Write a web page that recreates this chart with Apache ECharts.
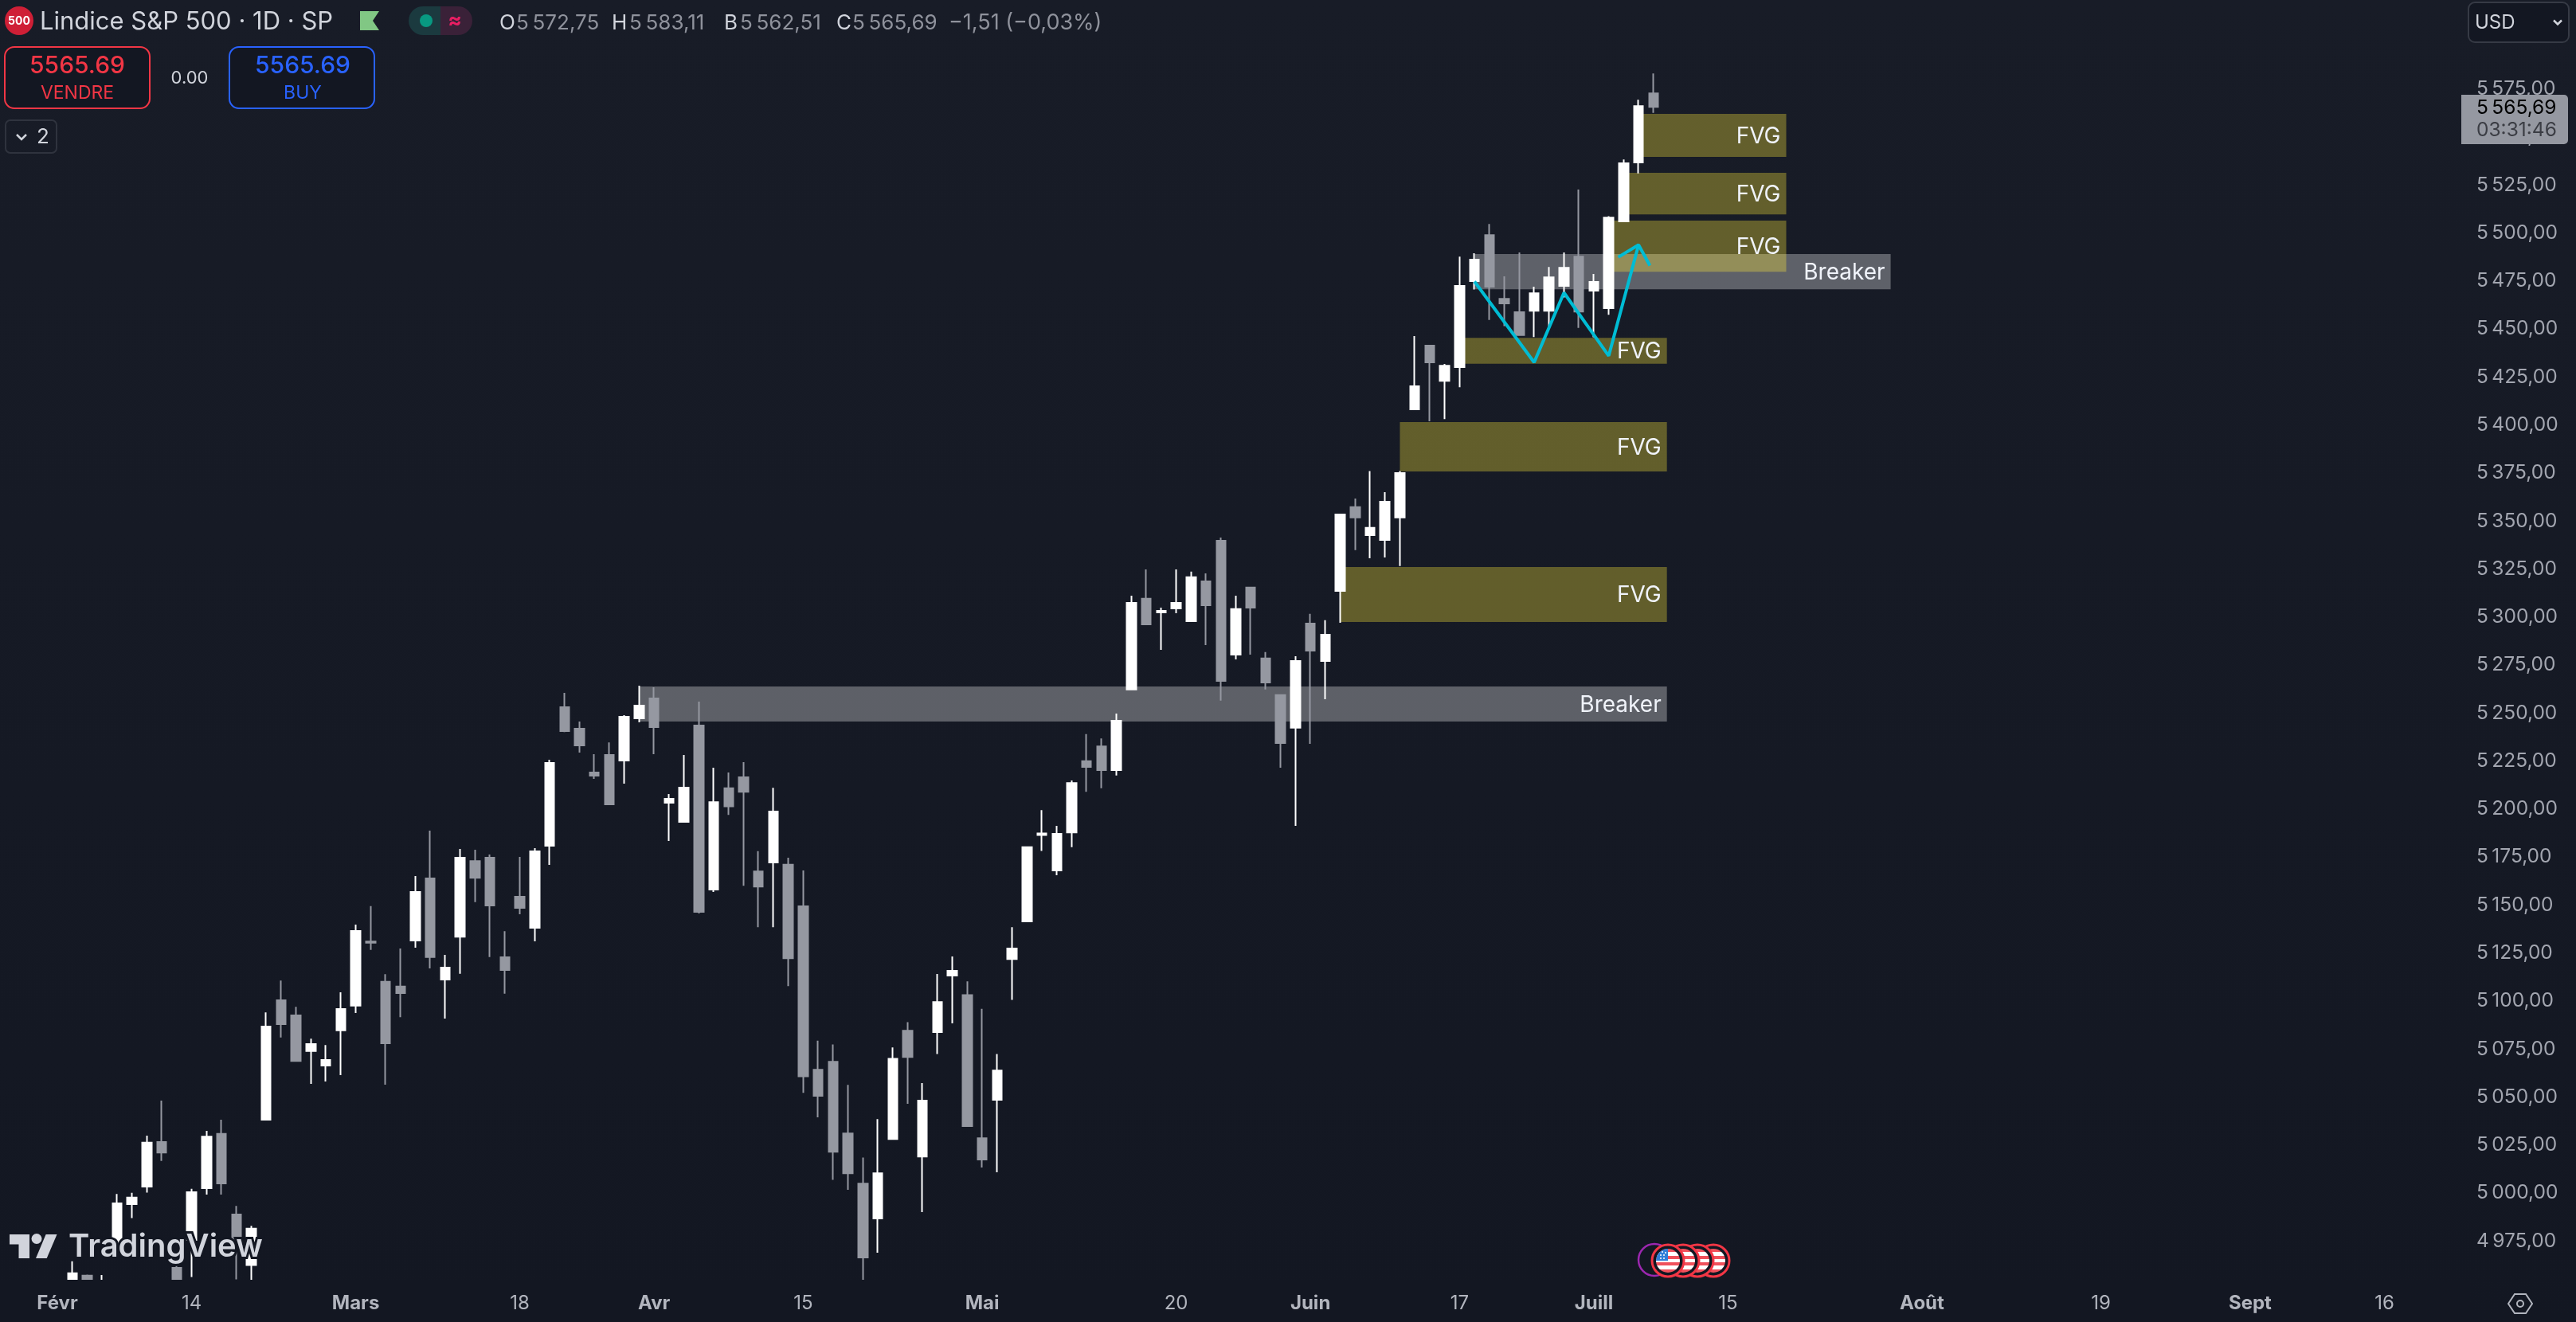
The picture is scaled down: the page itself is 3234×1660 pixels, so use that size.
<!DOCTYPE html>
<html>
<head>
<meta charset="utf-8">
<title>Lindice S&amp;P 500</title>
<style>
html, body { margin: 0; padding: 0; background: #131722; }
#chart { width: 3234px; height: 1660px; }
</style>
<script src="https://cdn.jsdelivr.net/npm/echarts@6/dist/echarts.min.js"></script>
</head>
<body>
<div id="chart"></div>
<script>
// bougies journalieres
var opens = [4950, 4957, 4940, 4972, 4994.2, 5003.3, 5026.6, 4961, 4975.5, 5002.5, 5030.8, 4988.8, 4962.5, 5038.2, 5100.4, 5092.5, 5073.9, 5066.4, 5084.7, 5097.6, 5131, 5110, 5107.5, 5131.5, 5163.8, 5111.2, 5133.5, 5172.9, 5174.6, 5122.8, 5154.3, 5138.1, 5180.8, 5253, 5241.8, 5219, 5228.1, 5225.2, 5247.2, 5257.6, 5203.2, 5193.3, 5243.5, 5158, 5210.8, 5216.5, 5167.5, 5172.1, 5171, 5149.3, 5064.2, 5068.3, 5031, 5004.9, 4986.7, 5028.1, 5084.5, 5019, 5083.8, 5113.2, 5103.1, 5028.5, 5048.5, 5121.8, 5141.4, 5186.4, 5168, 5187.8, 5224.9, 5232.6, 5220.3, 5262.2, 5309.5, 5302.4, 5304.5, 5297.8, 5318.6, 5339.7, 5280.4, 5315.3, 5278.4, 5259.3, 5242.3, 5296.6, 5277.1, 5313.6, 5357.2, 5342.6, 5340.1, 5351.8, 5408.1, 5441.3, 5423, 5430.1, 5474.9, 5498.9, 5465.7, 5458.7, 5459.5, 5459.5, 5472.4, 5487.7, 5469.9, 5460.8, 5506, 5536.7, 5572.75];
var highs = [4964.4, 4957.5, 4957.3, 4999.5, 5000.1, 5029.9, 5048.1, 4963, 5002.2, 5032.4, 5038.2, 4993.3, 4982.9, 5094.1, 5110.7, 5097, 5080.4, 5077.1, 5104.5, 5139.8, 5149.4, 5114, 5127.3, 5165.1, 5188.7, 5124, 5179.2, 5178.8, 5176.3, 5136.4, 5175, 5179.6, 5225.6, 5260.5, 5245.5, 5228.5, 5234.7, 5248.9, 5264.2, 5263.4, 5207.8, 5228.1, 5255.9, 5221.5, 5219, 5224.4, 5178, 5211, 5174.6, 5168, 5079.3, 5077.4, 5056.3, 5018.5, 5038.5, 5075.8, 5089, 5057.2, 5114.1, 5123.2, 5110.2, 5095.9, 5072.4, 5138.4, 5180.3, 5199.4, 5191.2, 5214.9, 5239, 5236.7, 5249.7, 5311.1, 5324.8, 5304.9, 5324.8, 5323.6, 5322.7, 5341.4, 5311.1, 5315.3, 5281.7, 5259.7, 5279.6, 5301.6, 5298.3, 5353.4, 5361.7, 5376, 5365, 5376, 5446.3, 5441.3, 5431.8, 5487.7, 5489.4, 5504.7, 5477.4, 5489.8, 5472, 5482.3, 5489.8, 5522.6, 5478.6, 5508.7, 5538.3, 5569.4, 5583.11];
var lows = [4945, 4945, 4935, 4970, 4986.9, 5000.2, 5016.7, 4945, 4956.2, 4999.2, 4999.2, 4955, 4950, 5038, 5081, 5068.5, 5056.8, 5058.1, 5061.4, 5093.7, 5126.6, 5056.4, 5091.6, 5127.8, 5117, 5090.8, 5114.2, 5151.5, 5122.9, 5103.8, 5145.2, 5131.1, 5170.9, 5240.1, 5229.4, 5215.7, 5202.4, 5213.2, 5245.1, 5228.5, 5183.3, 5193.3, 5145.6, 5156.8, 5196.9, 5160, 5138.4, 5138.4, 5107.7, 5052.2, 5039.4, 5006.9, 5001.7, 4954.3, 4968.9, 5027.8, 5046.5, 4990.1, 5072.4, 5088.4, 5034.9, 5013.3, 5010.8, 5100.6, 5141.4, 5178.2, 5165.5, 5180.1, 5209, 5210.8, 5217.4, 5262.2, 5295.8, 5282.9, 5302, 5297.4, 5285.4, 5256.4, 5277.9, 5280.4, 5262.2, 5221.5, 5191.2, 5233.9, 5257.2, 5297, 5334.8, 5330.6, 5331, 5326.5, 5408.1, 5401.9, 5403.1, 5419.7, 5470.6, 5454.7, 5451.5, 5446.8, 5445.8, 5451.2, 5466.4, 5450.5, 5445.7, 5457.4, 5506, 5531, 5562.51];
var closes = [4958.2, 4950, 4950, 4994.6, 4997.6, 5026.2, 5021.1, 4948, 5000.4, 5029.4, 5005, 4975.5, 4981.4, 5086.7, 5087.9, 5068.8, 5077.6, 5069.3, 5095.8, 5136.5, 5130.4, 5078, 5104.1, 5156.8, 5122.9, 5117.4, 5174.6, 5164.2, 5149.7, 5116.1, 5148.5, 5177.9, 5224, 5240.6, 5233.1, 5217.3, 5202.4, 5248, 5253.8, 5242.6, 5205.3, 5211.1, 5146.4, 5203.6, 5201.4, 5209, 5159.6, 5198.7, 5122.3, 5060.8, 5050.6, 5021.5, 5010.3, 4966.4, 5010.3, 5069.9, 5070.8, 5048.1, 5099.5, 5115.7, 5034.9, 5017.4, 5063.8, 5127.3, 5180.1, 5187.3, 5187.1, 5213.5, 5221.9, 5220.3, 5246, 5307.4, 5296.2, 5303.2, 5307.4, 5320.7, 5306.1, 5266.7, 5304.1, 5304.9, 5265.9, 5234.4, 5277.1, 5282.5, 5290.8, 5353.4, 5351.8, 5346.4, 5360, 5375, 5420.2, 5432.6, 5430.9, 5472.4, 5486.1, 5472, 5463.3, 5446.8, 5468.6, 5476.9, 5481.9, 5459.1, 5474.5, 5508, 5536.3, 5566.1, 5565.69];

// graduations
var priceTicks = [4975, 5000, 5025, 5050, 5075, 5100, 5125, 5150, 5175, 5200, 5225, 5250, 5275, 5300, 5325, 5350, 5375, 5400, 5425, 5450, 5475, 5500, 5525, 5550, 5575];
var dateTickSlots = [-1, 8, 19, 30, 39, 49, 61, 74, 83, 93, 102, 111, 124, 136, 146, 155];
var dateTickNames = ['Févr', '14', 'Mars', '18', 'Avr', '15', 'Mai', '20', 'Juin', '17', 'Juill', '15', 'Août', '19', 'Sept', '16'];
var monthNames = ['Févr', 'Mars', 'Avr', 'Mai', 'Juin', 'Juill', 'Août', 'Sept'];

// zones dessinees (breaker d'abord, les FVG passent dessus)
var zoneLabels = ['Breaker', 'Breaker', 'FVG', 'FVG', 'FVG', 'FVG', 'FVG', 'FVG'];
var zoneFrom = [38, 94, 85, 89, 93, 103, 104, 105];
var zoneTo = [106.9, 121.9, 106.9, 106.9, 106.9, 114.9, 114.9, 114.9];
var zoneTop = [5263.8, 5489, 5326, 5401.5, 5445.4, 5506.4, 5531.3, 5562];
var zoneBottom = [5245.6, 5470.7, 5297.4, 5375.8, 5431.9, 5479.8, 5509.7, 5539.6];

// trace cyan et sa fleche
var pathSlots = [94, 98, 100, 103, 105];
var pathPrices = [5474.7, 5432.6, 5468.9, 5436, 5493.8];
var arrowSlots = [103.64, 105, 105.76];
var arrowPrices = [5487.4, 5493.8, 5483];

var barStep = 18.727;
var leadSlots = 4;
var slotCount = 165;
var uiFont = 'Inter, "Noto Sans", sans-serif';

function pad(i) {
    return i + leadSlots;
}

function priceText(v) {
    var s = v.toFixed(2).replace('.', ',');
    return s.charAt(0) + '\u202f' + s.slice(1);
}

function buildCategories() {
    var list = [];
    for (var i = 0; i < slotCount; i++) list.push('');
    dateTickSlots.forEach(function(slot, k) {
        list[pad(slot)] = dateTickNames[k];
    });
    return list;
}

function buildCandles() {
    var list = [];
    for (var i = 0; i < leadSlots; i++) list.push(['-', '-', '-', '-']);
    opens.forEach(function(o, i) {
        list.push([o, closes[i], lows[i], highs[i]]);
    });
    return list;
}

function buildZones() {
    return zoneLabels.map(function(name, i) {
        return [zoneFrom[i], zoneTo[i], zoneTop[i], zoneBottom[i], name];
    });
}

function pairs(xs, ys) {
    return xs.map(function(x, i) {
        return [x, ys[i]];
    });
}

function renderZone(params, api) {
    var a = api.coord([api.value(0), api.value(2)]);
    var b = api.coord([api.value(1), api.value(3)]);
    var name = zoneLabels[params.dataIndex];
    return {
        type: 'group',
        children: [{
            type: 'rect',
            shape: { x: a[0], y: a[1], width: b[0] - a[0], height: b[1] - a[1] },
            style: { fill: name == 'FVG' ? 'rgba(255,235,59,0.33)' : 'rgba(255,255,255,0.31)' }
        }, {
            type: 'text',
            style: {
                x: b[0] - 7,
                y: (a[1] + b[1]) / 2 + 1.5,
                text: name,
                fill: '#f0f3fa',
                fontFamily: uiFont,
                fontSize: 28,
                align: 'right',
                verticalAlign: 'middle'
            }
        }]
    };
}

// petits helpers pour l'entete et les decors
function txt(x, y, text, size, color, align, weight) {
    return {
        type: 'text', z: 100,
        style: {
            x: x, y: y, text: text, fill: color, fontFamily: uiFont, fontSize: size,
            fontWeight: weight || 'normal', align: align || 'left', verticalAlign: 'middle'
        }
    };
}

function box(x, y, w, h, r, fill, stroke, lw) {
    return {
        type: 'rect', z: 100,
        shape: { x: x, y: y, width: w, height: h, r: r },
        style: { fill: fill, stroke: stroke || null, lineWidth: lw || 0 }
    };
}

function poly(points, fill) {
    return { type: 'polygon', z: 100, shape: { points: points }, style: { fill: fill } };
}

function chevron(x, y, s, color) {
    return {
        type: 'polyline', z: 100,
        shape: { points: [[x - s, y - s / 2], [x, y + s / 2], [x + s, y - s / 2]] },
        style: { stroke: color, lineWidth: 2.5, fill: null }
    };
}

function flag(cx, cy, withStars) {
    var stops = [];
    var colors = ['#f0515c', '#ffffff', '#f0515c', '#ffffff', '#f0515c', '#ffffff', '#f0515c'];
    colors.forEach(function(c, i) {
        stops.push({ offset: i / 7, color: c });
        stops.push({ offset: (i + 1) / 7, color: c });
    });
    var parts = [{
        type: 'circle', z: 101, shape: { cx: cx, cy: cy, r: 20 },
        style: { fill: '#131722', stroke: '#f23645', lineWidth: 3 }
    }, {
        type: 'circle', z: 101, shape: { cx: cx, cy: cy, r: 15 },
        style: { fill: { type: 'linear', x: 0, y: 0, x2: 0, y2: 1, colorStops: stops } }
    }];
    if (withStars) {
        parts.push({
            type: 'sector', z: 101,
            shape: { cx: cx, cy: cy, r: 15, r0: 0, startAngle: Math.PI, endAngle: Math.PI * 1.5 },
            style: { fill: '#2f7fd8' }
        });
        [[-9, -7], [-5, -7], [-9, -3], [-5, -3], [-3, -10], [-7, -11]].forEach(function(d) {
            parts.push({ type: 'circle', z: 101, shape: { cx: cx + d[0], cy: cy + d[1], r: 1 }, style: { fill: '#fff' } });
        });
    }
    return parts;
}

function buildGraphics() {
    var g = [];

    // bande de l'axe du temps: coupe les bougies qui descendent sous le graphique
    g.push({
        type: 'rect', z: 3,
        shape: { x: 0, y: 1607, width: 3100, height: 53 },
        style: { fill: '#131722' }
    });

    // titre
    g.push({ type: 'circle', z: 100, shape: { cx: 24, cy: 26, r: 18 }, style: { fill: '#cf1f36' } });
    g.push(txt(24, 27, '500', 14, '#ffffff', 'center', 'bold'));
    g.push(txt(50, 28, 'Lindice S&P 500 · 1D · SP', 31, '#d1d4dc'));
    g.push(poly([[452, 14], [476, 14], [468, 26], [476, 38], [452, 38]], '#81c784'));
    g.push(box(513, 8, 40, 36, [18, 0, 0, 18], '#1b3a3f'));
    g.push(box(553, 8, 40, 36, [0, 18, 18, 0], '#3a2138'));
    g.push({ type: 'circle', z: 100, shape: { cx: 535, cy: 26, r: 8 }, style: { fill: '#089981' } });
    g.push(txt(571, 26, '≈', 26, '#e91e63', 'center', 'bold'));

    // OHLC
    var head = '#d1d4dc', val = '#8f929c';
    g.push(txt(627, 29, 'O', 26, head));
    g.push(txt(648, 29, '5\u202f572,75', 26, val));
    g.push(txt(768, 29, 'H', 26, head));
    g.push(txt(790, 29, '5\u202f583,11', 26, val));
    g.push(txt(909, 29, 'B', 26, head));
    g.push(txt(929, 29, '5\u202f562,51', 26, val));
    g.push(txt(1050, 29, 'C', 26, head));
    g.push(txt(1070, 29, '5\u202f565,69', 26, val));
    g.push(txt(1191, 29, '−1,51 (−0,03%)', 27, val));

    // boutons
    g.push(box(6, 59, 182, 77, 12, '#131722', '#f23645', 2));
    g.push(txt(97, 83, '5565.69', 30, '#f23645', 'center', 500));
    g.push(txt(97, 117, 'VENDRE', 23, '#f23645', 'center'));
    g.push(txt(238, 98, '0.00', 22, '#d1d4dc', 'center'));
    g.push(box(288, 59, 182, 77, 12, '#131722', '#2962ff', 2));
    g.push(txt(380, 83, '5565.69', 30, '#2962ff', 'center', 500));
    g.push(txt(380, 117, 'BUY', 23, '#2962ff', 'center'));
    g.push(box(7, 151, 64, 41, 6, 'rgba(0,0,0,0)', '#2f333e', 2));
    g.push(chevron(27, 172, 6, '#d1d4dc'));
    g.push(txt(54, 172, '2', 26, '#d1d4dc', 'center'));

    // USD et prix courant
    g.push(box(3099, 3, 126, 50, 8, '#131722', '#363a45', 2));
    g.push(txt(3107, 29, 'USD', 24, '#d1d4dc'));
    g.push(chevron(3211, 28, 5, '#d1d4dc'));
    g.push(box(3090, 119, 134, 62, [0, 5, 5, 0], '#9598a1'));
    g.push(txt(3109, 136, priceText(closes[closes.length - 1]), 24.5, '#000000'));
    g.push(txt(3109, 164, '03:31:46', 24.5, '#3b3d44'));

    // logo
    g.push(poly([[12, 1550], [37, 1550], [37, 1580], [23.5, 1580], [23.5, 1562.5], [12, 1562.5]], '#d1d4dc'));
    g.push({ type: 'circle', z: 100, shape: { cx: 46, cy: 1555.5, r: 6.5 }, style: { fill: '#d1d4dc' } });
    g.push(poly([[57.6, 1550], [71.5, 1550], [58.7, 1580], [45, 1580]], '#d1d4dc'));
    var logo = txt(86, 1566, 'TradingView', 40, '#d1d4dc', 'left', 600);
    logo.style.stroke = '#131722';
    logo.style.lineWidth = 6;
    g.push(logo);

    // evenements
    g.push({
        type: 'circle', z: 101, shape: { cx: 2077, cy: 1582, r: 20 },
        style: { fill: '#131722', stroke: '#9c27b0', lineWidth: 2.5 }
    });
    [2151, 2131, 2113].forEach(function(x) {
        g = g.concat(flag(x, 1583, false));
    });
    g = g.concat(flag(2094, 1583, true));

    // engrenage
    g.push({
        type: 'polygon', z: 100,
        shape: { points: [[3149, 1637], [3157, 1625], [3171, 1625], [3179, 1637], [3171, 1649], [3157, 1649]] },
        style: { fill: null, stroke: '#b2b5be', lineWidth: 2 }
    });
    g.push({ type: 'circle', z: 100, shape: { cx: 3164, cy: 1637, r: 4 }, style: { fill: null, stroke: '#b2b5be', lineWidth: 2 } });
    return g;
}

var chart = echarts.init(document.getElementById('chart'), null, { renderer: 'canvas' });

chart.setOption({
    animation: false,
    backgroundColor: {
        type: 'linear', x: 0, y: 0, x2: 0, y2: 1,
        colorStops: [{ offset: 0, color: '#181c27' }, { offset: 1, color: '#131722' }]
    },
    grid: { left: 6.5, top: 0, width: barStep * slotCount, height: 1607 },
    xAxis: [{
        type: 'category',
        z: 5,
        data: buildCategories(),
        axisLine: { show: false },
        axisTick: { show: false },
        splitLine: { show: false },
        axisLabel: {
            interval: 0,
            margin: 18,
            fontFamily: uiFont,
            fontSize: 24,
            color: '#b2b5be',
            formatter: function(v) {
                return monthNames.indexOf(v) >= 0 ? '{m|' + v + '}' : v;
            },
            rich: { m: { fontFamily: uiFont, fontSize: 24, fontWeight: 'bold', color: '#b2b5be' } }
        }
    }, {
        // meme echelle en numero de bougie, pour les zones et le trace
        type: 'value',
        show: false,
        min: -leadSlots - 0.5,
        max: slotCount - leadSlots - 0.5,
        splitLine: { show: false }
    }],
    yAxis: {
        type: 'value',
        position: 'right',
        min: 4954.8,
        max: 5621.33,
        axisLine: { show: false },
        axisTick: { show: false },
        splitLine: { show: false },
        axisLabel: {
            customValues: priceTicks,
            margin: 12.5,
            padding: [2, 0, 0, 0],
            fontFamily: uiFont,
            fontSize: 24.5,
            color: '#a3a6b0',
            formatter: priceText
        }
    },
    series: [{
        type: 'custom',
        xAxisIndex: 1,
        z: 1,
        renderItem: renderZone,
        encode: { x: [0, 1], y: [2, 3] },
        data: buildZones()
    }, {
        type: 'candlestick',
        xAxisIndex: 0,
        z: 2,
        barWidth: 12,
        itemStyle: {
            color: '#ffffff',
            color0: '#9598a1',
            borderColor: '#ffffff',
            borderColor0: '#9598a1',
            borderWidth: 2
        },
        data: buildCandles()
    }, {
        type: 'line',
        xAxisIndex: 1,
        z: 3,
        showSymbol: false,
        lineStyle: { color: '#00bcd4', width: 4 },
        data: pairs(pathSlots, pathPrices)
    }, {
        type: 'line',
        xAxisIndex: 1,
        z: 3,
        showSymbol: false,
        lineStyle: { color: '#00bcd4', width: 4 },
        data: pairs(arrowSlots, arrowPrices)
    }],
    graphic: buildGraphics()
});
</script>
</body>
</html>
